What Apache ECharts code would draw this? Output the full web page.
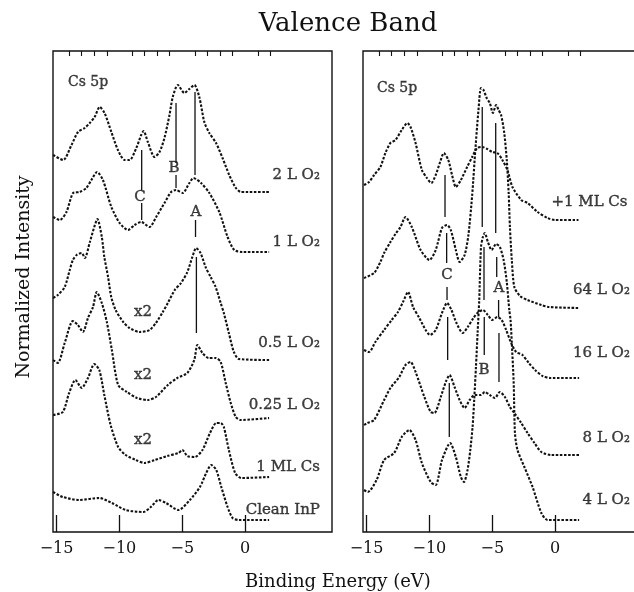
<!DOCTYPE html>
<html>
<head>
<meta charset="utf-8">
<script src="https://cdn.jsdelivr.net/npm/echarts@6/dist/echarts.min.js"></script>
<style>html,body{margin:0;padding:0;background:#fff}#c{width:634px;height:592px}</style>
</head>
<body>
<div id="c"></div>
<script>
// ---------- axis ----------
const X_MIN = -15.28, X_MAX = 6.9;
const MAJOR_TICKS = [-15, -10, -5, 0];
const MINOR_TICKS = [-14, -13, -12, -11, -9, -8, -7, -6, -4, -3, -2, -1, 1, 2];
const Y_MIN = 0, Y_MAX = 481;   // normalized intensity (arb. units, offset curves)

// ---------- left panel (Cs on InP, then O2) ----------
const curve_2L = [[-15.27,377],[-14.47,372],[-13.81,387],[-13.29,400],[-12.76,404],[-12.36,409],[-11.97,415],[-11.57,425],[-11.18,419],[-10.64,400],[-10.12,382],[-9.59,372],[-9.19,372],[-8.66,384],[-8.27,397],[-8.08,401],[-7.74,390],[-7.21,375],[-6.81,380],[-6.42,394],[-6.02,417],[-5.76,435],[-5.36,447],[-4.83,439],[-4.44,443],[-4.04,447],[-3.65,435],[-3.25,410],[-2.85,399],[-2.32,389],[-1.80,374],[-1.27,357],[-0.74,344],[-0.34,340],[0.05,340],[1.9,340]];
const curve_1L = [[-15.27,315],[-14.74,312],[-14.21,320],[-13.68,339],[-13.16,340],[-12.63,344],[-12.23,352],[-11.78,360],[-11.31,352],[-10.64,325],[-9.98,309],[-9.32,302],[-8.79,307],[-8.27,310],[-7.61,305],[-7.08,315],[-6.42,329],[-5.89,340],[-5.50,342],[-4.97,339],[-4.44,349],[-4.12,354],[-3.51,349],[-2.85,339],[-2.06,320],[-1.40,295],[-0.87,282],[-0.21,280],[1.9,280]];
const curve_05L = [[-15.27,234],[-14.9,237],[-14.35,245],[-13.95,262],[-13.7,272],[-13.4,277],[-13.0,279],[-12.75,274],[-12.35,290],[-12.0,305],[-11.75,313],[-11.4,295],[-11.2,275],[-10.9,255],[-10.65,235],[-10.3,222],[-9.7,210],[-9.2,204],[-8.4,200],[-7.6,202],[-7.1,209],[-6.55,220],[-6.15,229],[-5.6,242],[-5.1,249],[-4.6,260],[-4.2,275],[-3.9,284],[-3.55,279],[-3.15,265],[-2.75,255],[-2.35,245],[-1.95,229],[-1.7,219],[-1.3,199],[-0.9,180],[-0.5,173],[1.9,172]];
const curve_025L = [[-15.27,172],[-14.9,169],[-14.35,189],[-13.7,211],[-13.3,207],[-12.9,200],[-12.5,214],[-12.1,225],[-11.8,240],[-11.4,229],[-11.0,210],[-10.6,182],[-10.1,147],[-9.4,140],[-8.6,134],[-7.75,132],[-7.1,135],[-6.15,147],[-5.4,154],[-4.6,159],[-4.05,172],[-3.8,187],[-3.4,179],[-2.9,174],[-2.35,174],[-1.95,170],[-1.55,149],[-1.15,129],[-0.75,115],[-0.35,112],[1.9,114]];
const curve_1ML = [[-15.27,117],[-14.5,120],[-14.0,139],[-13.5,152],[-13.0,144],[-12.5,154],[-12.0,168],[-11.6,162],[-11.2,137],[-10.7,107],[-10.1,85],[-9.5,77],[-8.7,72],[-8.0,69],[-7.2,72],[-6.2,76],[-5.3,79],[-5.0,82],[-4.6,76],[-4.0,75],[-3.4,82],[-2.8,99],[-2.3,109],[-1.95,109],[-1.7,105],[-1.3,82],[-0.8,59],[-0.3,54],[1.9,55]];
const curve_clean = [[-15.27,40],[-14.5,35],[-13.2,32],[-11.6,34],[-10.6,29],[-9.5,22],[-8.1,20],[-7.5,25],[-6.9,32],[-6.3,29],[-5.3,22],[-4.4,32],[-3.6,45],[-3.1,59],[-2.7,67],[-2.3,62],[-1.9,45],[-1.4,25],[-1.0,14],[-0.5,12],[1.9,12]];

// ---------- right panel (O2 exposures, then +1 ML Cs) ----------
const curve_plus1ML = [[-15.2,347],[-14.8,350],[-14.4,357],[-13.9,365],[-13.5,379],[-13.1,389],[-12.7,392],[-12.2,402],[-11.75,409],[-11.5,405],[-11.1,389],[-10.6,362],[-10.2,354],[-9.85,349],[-9.5,357],[-9.15,370],[-8.85,379],[-8.5,372],[-8.2,357],[-7.9,345],[-7.5,352],[-7.0,365],[-6.6,375],[-6.2,384],[-5.8,385],[-5.4,383],[-5.0,380],[-4.6,379],[-4.2,372],[-3.8,362],[-3.4,345],[-2.7,332],[-2.2,329],[-1.4,320],[-0.6,314],[0.0,312],[1.85,312]];
const curve_64L = [[-15.2,254],[-14.4,259],[-13.9,270],[-13.6,279],[-13.1,290],[-12.7,298],[-12.3,305],[-11.9,315],[-11.4,305],[-10.7,282],[-10.0,272],[-9.5,282],[-9.0,304],[-8.6,307],[-8.3,302],[-7.9,282],[-7.6,270],[-7.2,277],[-6.9,297],[-6.6,337],[-6.35,382],[-6.1,422],[-5.9,444],[-5.7,442],[-5.45,434],[-5.2,429],[-4.95,419],[-4.7,427],[-4.5,422],[-4.3,417],[-4.05,399],[-3.85,372],[-3.7,339],[-3.6,305],[-3.45,272],[-3.25,245],[-2.8,236],[-2.2,232],[-1.1,227],[-0.5,225],[1.9,224]];
const curve_16L = [[-15.2,182],[-14.8,180],[-14.3,190],[-13.6,202],[-13.0,212],[-12.5,220],[-12.1,230],[-11.7,240],[-11.3,225],[-10.8,214],[-10.3,202],[-9.95,197],[-9.5,202],[-9.0,219],[-8.6,229],[-8.25,222],[-7.85,209],[-7.35,199],[-6.95,205],[-6.5,214],[-6.1,220],[-5.75,222],[-5.35,217],[-5.0,212],[-4.6,215],[-4.25,212],[-3.9,202],[-3.5,189],[-3.1,180],[-2.6,177],[-2.1,169],[-1.6,162],[-1.0,156],[-0.4,154],[1.9,154]];
const curve_8L = [[-15.2,107],[-14.95,109],[-14.4,112],[-13.6,132],[-13.1,144],[-12.4,155],[-11.9,167],[-11.5,170],[-11.1,160],[-10.4,135],[-9.9,120],[-9.6,119],[-9.1,135],[-8.7,150],[-8.4,157],[-8.0,145],[-7.6,132],[-7.2,124],[-6.8,132],[-6.4,137],[-5.9,137],[-5.6,140],[-5.2,137],[-4.8,134],[-4.4,140],[-4.0,135],[-3.6,125],[-3.25,119],[-2.7,109],[-2.2,99],[-1.65,89],[-1.1,80],[-0.3,77],[1.9,77]];
const curve_4L = [[-15.2,42],[-14.9,40],[-14.2,52],[-13.6,72],[-12.8,79],[-12.2,95],[-11.6,102],[-11.1,92],[-10.6,69],[-9.9,50],[-9.5,47],[-9.0,72],[-8.35,89],[-7.9,75],[-7.5,55],[-7.25,50],[-6.97,62],[-6.75,82],[-6.57,105],[-6.44,132],[-6.3,165],[-6.17,199],[-6.04,232],[-5.9,285],[-5.75,295],[-5.6,299],[-5.35,290],[-5.05,282],[-4.7,288],[-4.4,285],[-4.1,272],[-3.85,250],[-3.65,222],[-3.55,212],[-3.45,189],[-3.3,149],[-3.2,99],[-3.0,82],[-2.45,65],[-1.8,45],[-1.1,19],[-0.6,12],[1.9,12]];

// ---------- peak marker lines: [energy, intensity from, intensity to] ----------
const markers_left = [[-8.23,382,342],[-8.23,329,312],[-5.5,429,369],[-5.5,357,344],[-3.99,440,357],[-3.95,312,295],[-3.88,275,199]];
const markers_right = [[-8.76,357,315],[-8.63,299,269],[-8.6,245,232],[-8.55,215,172],[-8.42,149,95],[-5.8,425,305],[-5.66,285,232],[-5.64,215,177],[-4.73,409,299],[-4.65,275,255],[-4.5,232,215],[-4.47,199,150]];

// ---------- texts: [energy, intensity, text] ----------
const curveLabels_left = [[5.94,357,'2 L O₂'],[5.94,290,'1 L O₂'],[5.94,189,'0.5 L O₂'],[5.94,127,'0.25 L O₂'],[5.94,65,'1 ML Cs'],[5.94,22,'Clean InP']];
const curveLabels_right = [[5.75,330,'+1 ML Cs'],[5.94,242,'64 L O₂'],[5.94,179,'16 L O₂'],[5.94,94,'8 L O₂'],[5.94,32,'4 L O₂']];
const peakLabels_left = [[-8.36,335,'C'],[-5.66,364,'B'],[-3.91,320,'A'],[-8.13,220,'x2'],[-8.13,157,'x2'],[-8.13,92,'x2']];
const peakLabels_right = [[-8.6,257,'C'],[-4.47,244,'A'],[-5.66,162,'B']];
const corner_left = [[-14.09,450,'Cs 5p']];
const corner_right = [[-14.17,444,'Cs 5p']];

const FONT = 'DejaVu Serif';
const INK = '#111';

const grids = [
  {left: 53, top: 51, width: 279, height: 481, show: true, borderColor: INK, borderWidth: 1.4, backgroundColor: 'transparent', outerBoundsMode: 'none', containLabel: false},
  {left: 363, top: 51, width: 279, height: 481, show: true, borderColor: INK, borderWidth: 1.4, backgroundColor: 'transparent', outerBoundsMode: 'none', containLabel: false}
];
const fmt = v => (v < 0 ? '\u2212' + Math.abs(v) : String(v));
const xAxes = [], yAxes = [];
[0, 1].forEach(g => {
  xAxes.push({gridIndex: g, type: 'value', min: X_MIN, max: X_MAX,
    axisLine: {show: false}, splitLine: {show: false},
    axisTick: {show: true, inside: true, length: 17, customValues: MAJOR_TICKS, lineStyle: {color: INK, width: 1.3}},
    axisLabel: {show: true, customValues: MAJOR_TICKS, formatter: fmt, fontFamily: FONT, fontSize: 16, color: INK, margin: 9}});
  xAxes.push({gridIndex: g, type: 'value', min: X_MIN, max: X_MAX,
    axisLine: {show: false}, splitLine: {show: false},
    axisTick: {show: true, inside: true, length: 5, customValues: MINOR_TICKS, lineStyle: {color: INK, width: 1.1}},
    axisLabel: {show: false}});
  yAxes.push({gridIndex: g, type: 'value', min: Y_MIN, max: Y_MAX, show: false});
});

const series = [];
function curve(data, g) {
  series.push({type: 'line', xAxisIndex: 2 * g, yAxisIndex: g, data: data, showSymbol: false, smooth: 0.25,
    silent: true, animation: false, lineStyle: {color: INK, width: 2.1, type: [2.5, 1.6]}});
}
function markers(list, g) {
  list.forEach(m => series.push({type: 'line', xAxisIndex: 2 * g, yAxisIndex: g, data: [[m[0], m[1]], [m[0], m[2]]],
    showSymbol: false, silent: true, animation: false, lineStyle: {color: INK, width: 1.3}}));
}
function texts(list, g, align, size) {
  series.push({type: 'scatter', xAxisIndex: 2 * g, yAxisIndex: g, symbolSize: 0, silent: true, animation: false,
    data: list.map(t => ({value: [t[0], t[1]], name: t[2]})),
    label: {show: true, position: 'inside', formatter: p => p.name, align: align, verticalAlign: 'middle',
      fontFamily: FONT, fontSize: size, color: INK, textBorderColor: INK, textBorderWidth: 0.4}});
}
[curve_2L, curve_1L, curve_05L, curve_025L, curve_1ML, curve_clean].forEach(c => curve(c, 0));
[curve_plus1ML, curve_64L, curve_16L, curve_8L, curve_4L].forEach(c => curve(c, 1));
markers(markers_left, 0); markers(markers_right, 1);
texts(curveLabels_left, 0, 'right', 15); texts(curveLabels_right, 1, 'right', 15);
texts(peakLabels_left, 0, 'center', 15); texts(peakLabels_right, 1, 'center', 15);
texts(corner_left, 0, 'left', 14); texts(corner_right, 1, 'left', 14);

const chart = echarts.init(document.getElementById('c'), null, {renderer: 'canvas'});
chart.setOption({
  animation: false,
  backgroundColor: '#fff',
  grid: grids, xAxis: xAxes, yAxis: yAxes, series: series,
  graphic: [
    {type: 'text', x: 348, y: 24, style: {text: 'Valence Band', font: '26px "DejaVu Serif"', fill: INK, textAlign: 'center', textVerticalAlign: 'middle'}},
    {type: 'text', x: 338, y: 582, style: {text: 'Binding Energy (eV)', font: '18px "DejaVu Serif"', fill: INK, textAlign: 'center', textVerticalAlign: 'middle'}},
    {type: 'text', x: 24, y: 277, rotation: Math.PI / 2, style: {text: 'Normalized Intensity', font: '19px "DejaVu Serif"', fill: INK, textAlign: 'center', textVerticalAlign: 'middle'}}
  ]
});
</script>
</body>
</html>
